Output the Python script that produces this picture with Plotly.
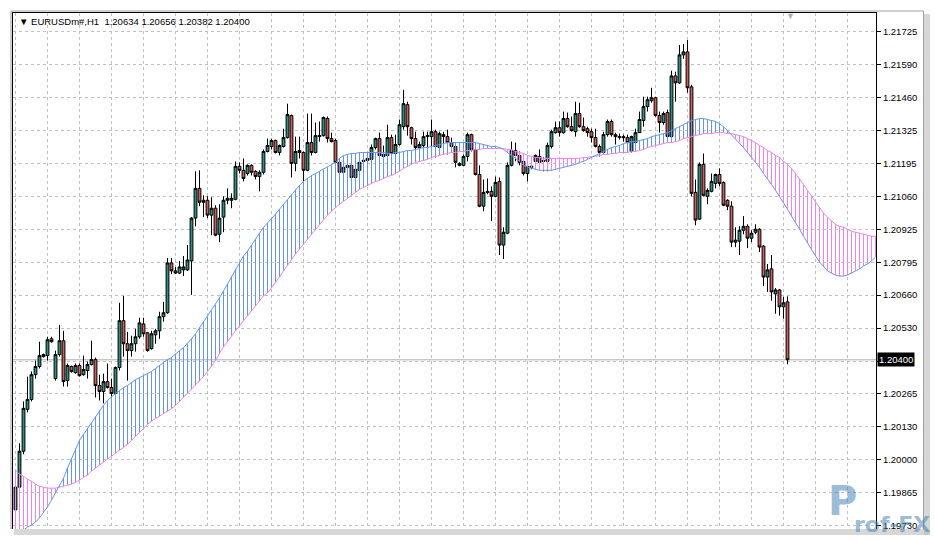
import plotly.graph_objects as go

# ---------------- data (EURUSDm#, H1) ----------------
opens = [1.19794,1.19886,1.20031,1.20200,1.20240,1.20340,1.20373,1.20413,1.20417,1.20485,
1.20324,1.20421,1.20477,1.20316,1.20373,1.20348,1.20377,1.20340,1.20357,1.20381,
1.20401,1.20296,1.20272,1.20312,1.20288,1.20264,1.20369,1.20558,1.20465,1.20437,
1.20465,1.20493,1.20545,1.20509,1.20445,1.20501,1.20517,1.20574,1.20590,1.20791,
1.20759,1.20750,1.20763,1.20763,1.20799,1.20972,1.21092,1.21036,1.21044,1.20984,
1.21012,1.20907,1.20976,1.21044,1.21044,1.21048,1.21181,1.21165,1.21152,1.21185,
1.21161,1.21140,1.21157,1.21241,1.21261,1.21285,1.21237,1.21261,1.21297,1.21386,
1.21193,1.21245,1.21237,1.21165,1.21277,1.21237,1.21301,1.21305,1.21374,1.21293,
1.21285,1.21197,1.21157,1.21177,1.21185,1.21136,1.21165,1.21201,1.21205,1.21209,
1.21257,1.21293,1.21229,1.21225,1.21297,1.21233,1.21269,1.21341,1.21430,1.21337,
1.21293,1.21257,1.21265,1.21301,1.21301,1.21321,1.21257,1.21301,1.21301,1.21277,
1.21261,1.21193,1.21185,1.21221,1.21309,1.21249,1.21148,1.21020,1.21080,1.21080,
1.21060,1.21120,1.20863,1.20911,1.21185,1.21245,1.21225,1.21201,1.21152,1.21177,
1.21201,1.21221,1.21205,1.21201,1.21261,1.21317,1.21337,1.21317,1.21374,1.21341,
1.21321,1.21394,1.21341,1.21333,1.21321,1.21297,1.21261,1.21237,1.21309,1.21362,
1.21309,1.21297,1.21301,1.21297,1.21241,1.21277,1.21317,1.21366,1.21422,1.21446,
1.21458,1.21386,1.21358,1.21398,1.21301,1.21546,1.21518,1.21631,1.21643,1.21502,
1.21076,1.20968,1.21189,1.21060,1.21080,1.21112,1.21148,1.21116,1.21044,1.21020,
1.20875,1.20879,1.20923,1.20939,1.20891,1.20915,1.20927,1.20859,1.20734,1.20767,
1.20666,1.20682,1.20614,1.20634]

highs = [1.19922,1.20063,1.20232,1.20332,1.20353,1.20397,1.20473,1.20425,1.20493,1.20493,
1.20437,1.20541,1.20517,1.20385,1.20377,1.20385,1.20385,1.20417,1.20393,1.20477,
1.20409,1.20340,1.20344,1.20385,1.20324,1.20373,1.20630,1.20658,1.20513,1.20497,
1.20525,1.20570,1.20570,1.20513,1.20517,1.20525,1.20594,1.20634,1.20811,1.20811,
1.20775,1.20799,1.20819,1.20863,1.20976,1.21161,1.21165,1.21064,1.21060,1.21056,
1.21024,1.21028,1.21060,1.21092,1.21072,1.21201,1.21197,1.21213,1.21189,1.21189,
1.21165,1.21165,1.21249,1.21293,1.21293,1.21289,1.21269,1.21333,1.21434,1.21390,
1.21301,1.21301,1.21241,1.21394,1.21394,1.21358,1.21362,1.21382,1.21382,1.21317,
1.21293,1.21213,1.21197,1.21221,1.21197,1.21177,1.21213,1.21217,1.21229,1.21269,
1.21297,1.21317,1.21265,1.21349,1.21309,1.21309,1.21370,1.21490,1.21442,1.21341,
1.21321,1.21281,1.21321,1.21321,1.21370,1.21329,1.21321,1.21321,1.21329,1.21297,
1.21265,1.21197,1.21229,1.21317,1.21313,1.21257,1.21185,1.21128,1.21132,1.21100,
1.21140,1.21136,1.20935,1.21197,1.21281,1.21277,1.21241,1.21209,1.21189,1.21189,
1.21229,1.21249,1.21217,1.21277,1.21329,1.21362,1.21362,1.21402,1.21398,1.21382,
1.21442,1.21438,1.21378,1.21341,1.21333,1.21333,1.21269,1.21321,1.21370,1.21370,
1.21317,1.21313,1.21309,1.21309,1.21305,1.21333,1.21402,1.21462,1.21462,1.21498,
1.21462,1.21402,1.21402,1.21410,1.21567,1.21563,1.21671,1.21675,1.21691,1.21510,
1.21128,1.21197,1.21233,1.21092,1.21152,1.21152,1.21173,1.21120,1.21048,1.21040,
1.20935,1.20939,1.20980,1.20947,1.20923,1.20947,1.20931,1.20863,1.20787,1.20823,
1.20690,1.20686,1.20654,1.20656]

lows = [1.19725,1.19874,1.20019,1.20188,1.20232,1.20324,1.20365,1.20409,1.20397,1.20469,
1.20316,1.20413,1.20292,1.20292,1.20348,1.20344,1.20332,1.20336,1.20324,1.20377,
1.20248,1.20236,1.20224,1.20284,1.20244,1.20192,1.20357,1.20413,1.20316,1.20413,
1.20433,1.20485,1.20493,1.20433,1.20441,1.20465,1.20485,1.20554,1.20586,1.20746,
1.20746,1.20746,1.20738,1.20759,1.20662,1.20939,1.21020,1.20976,1.20972,1.20903,
1.20899,1.20875,1.20915,1.21028,1.21012,1.21044,1.21152,1.21120,1.21144,1.21144,
1.21128,1.21080,1.21148,1.21237,1.21249,1.21233,1.21225,1.21257,1.21293,1.21136,
1.21161,1.21213,1.21120,1.21161,1.21225,1.21233,1.21281,1.21301,1.21277,1.21277,
1.21181,1.21152,1.21148,1.21161,1.21128,1.21132,1.21161,1.21181,1.21201,1.21201,
1.21249,1.21209,1.21209,1.21221,1.21229,1.21197,1.21265,1.21329,1.21305,1.21269,
1.21221,1.21209,1.21229,1.21257,1.21261,1.21217,1.21257,1.21257,1.21229,1.21241,
1.21177,1.21181,1.21181,1.21201,1.21241,1.21144,1.21016,1.21000,1.21068,1.20960,
1.21056,1.20823,1.20807,1.20907,1.21181,1.21201,1.21185,1.21144,1.21120,1.21169,
1.21181,1.21177,1.21161,1.21161,1.21253,1.21313,1.21301,1.21313,1.21337,1.21321,
1.21301,1.21337,1.21321,1.21301,1.21277,1.21257,1.21221,1.21229,1.21301,1.21301,
1.21269,1.21289,1.21281,1.21269,1.21237,1.21269,1.21317,1.21341,1.21402,1.21438,
1.21382,1.21317,1.21349,1.21281,1.21297,1.21442,1.21514,1.21615,1.21478,1.21060,
1.20943,1.20964,1.21060,1.21028,1.21076,1.21092,1.21100,1.21020,1.21004,1.20855,
1.20855,1.20823,1.20907,1.20851,1.20875,1.20907,1.20835,1.20698,1.20674,1.20638,
1.20586,1.20578,1.20566,1.20382]

closes = [1.19886,1.20031,1.20204,1.20240,1.20340,1.20373,1.20417,1.20421,1.20481,1.20473,
1.20421,1.20477,1.20312,1.20377,1.20353,1.20377,1.20336,1.20361,1.20381,1.20401,
1.20296,1.20272,1.20312,1.20288,1.20264,1.20369,1.20558,1.20465,1.20437,1.20465,
1.20493,1.20549,1.20505,1.20437,1.20505,1.20517,1.20574,1.20590,1.20791,1.20759,
1.20750,1.20775,1.20775,1.20803,1.20972,1.21092,1.21036,1.21044,1.20984,1.21012,
1.20903,1.20972,1.21044,1.21052,1.21052,1.21181,1.21165,1.21132,1.21185,1.21157,
1.21140,1.21157,1.21241,1.21265,1.21285,1.21237,1.21265,1.21297,1.21390,1.21193,
1.21241,1.21237,1.21165,1.21277,1.21237,1.21305,1.21305,1.21378,1.21293,1.21281,
1.21197,1.21157,1.21177,1.21185,1.21136,1.21169,1.21197,1.21205,1.21213,1.21257,
1.21293,1.21225,1.21221,1.21297,1.21233,1.21269,1.21349,1.21434,1.21341,1.21293,
1.21257,1.21269,1.21301,1.21305,1.21321,1.21261,1.21313,1.21309,1.21277,1.21261,
1.21197,1.21185,1.21221,1.21309,1.21249,1.21148,1.21020,1.21076,1.21076,1.21060,
1.21116,1.20863,1.20915,1.21185,1.21245,1.21225,1.21197,1.21152,1.21181,1.21181,
1.21225,1.21197,1.21201,1.21265,1.21321,1.21337,1.21317,1.21374,1.21341,1.21325,
1.21394,1.21341,1.21325,1.21317,1.21297,1.21261,1.21237,1.21309,1.21362,1.21309,
1.21301,1.21301,1.21297,1.21277,1.21301,1.21317,1.21370,1.21422,1.21450,1.21458,
1.21386,1.21358,1.21394,1.21301,1.21546,1.21518,1.21631,1.21643,1.21498,1.21072,
1.20964,1.21189,1.21064,1.21084,1.21120,1.21148,1.21112,1.21024,1.21020,1.20875,
1.20883,1.20923,1.20939,1.20891,1.20911,1.20927,1.20855,1.20734,1.20763,1.20674,
1.20682,1.20614,1.20630,1.20400]

# Ichimoku cloud (shifted forward), one value per bar
span_a = [1.19689,1.19701,1.19713,1.19725,1.19733,1.19745,1.19762,1.19782,1.19806,1.19834,
1.19862,1.19890,1.19922,1.19963,1.20003,1.20043,1.20075,1.20099,1.20123,1.20148,
1.20172,1.20196,1.20216,1.20236,1.20252,1.20264,1.20276,1.20288,1.20296,1.20308,
1.20320,1.20328,1.20336,1.20344,1.20353,1.20365,1.20377,1.20389,1.20401,1.20409,
1.20425,1.20437,1.20449,1.20465,1.20485,1.20505,1.20529,1.20554,1.20574,1.20598,
1.20622,1.20650,1.20678,1.20706,1.20738,1.20767,1.20795,1.20819,1.20839,1.20863,
1.20887,1.20911,1.20935,1.20952,1.20968,1.20988,1.21008,1.21028,1.21048,1.21068,
1.21088,1.21104,1.21120,1.21132,1.21144,1.21152,1.21161,1.21169,1.21177,1.21185,
1.21197,1.21213,1.21225,1.21229,1.21233,1.21233,1.21237,1.21237,1.21237,1.21237,
1.21237,1.21237,1.21237,1.21233,1.21233,1.21237,1.21237,1.21241,1.21245,1.21245,
1.21249,1.21253,1.21257,1.21257,1.21261,1.21265,1.21269,1.21273,1.21277,1.21277,
1.21277,1.21277,1.21277,1.21277,1.21277,1.21277,1.21273,1.21269,1.21265,1.21261,
1.21261,1.21257,1.21249,1.21237,1.21225,1.21213,1.21201,1.21185,1.21177,1.21173,
1.21169,1.21165,1.21165,1.21165,1.21165,1.21169,1.21173,1.21177,1.21181,1.21185,
1.21189,1.21197,1.21201,1.21209,1.21217,1.21225,1.21233,1.21241,1.21249,1.21257,
1.21261,1.21265,1.21273,1.21277,1.21281,1.21281,1.21285,1.21289,1.21293,1.21301,
1.21305,1.21309,1.21313,1.21317,1.21325,1.21333,1.21341,1.21349,1.21358,1.21366,
1.21370,1.21374,1.21374,1.21370,1.21366,1.21362,1.21353,1.21341,1.21325,1.21309,
1.21293,1.21277,1.21257,1.21237,1.21217,1.21197,1.21177,1.21152,1.21132,1.21108,
1.21084,1.21060,1.21036,1.21008,1.20980,1.20956,1.20927,1.20899,1.20871,1.20843,
1.20819,1.20795,1.20775,1.20759,1.20750,1.20742,1.20738,1.20738,1.20742,1.20750,
1.20759,1.20767,1.20779,1.20787,1.20799,1.20815]

span_b = [1.19955,1.19938,1.19930,1.19918,1.19910,1.19898,1.19890,1.19886,1.19882,1.19882,
1.19882,1.19886,1.19890,1.19894,1.19898,1.19906,1.19914,1.19926,1.19934,1.19951,
1.19963,1.19975,1.19987,1.19999,1.20011,1.20023,1.20035,1.20047,1.20059,1.20075,
1.20091,1.20107,1.20127,1.20139,1.20152,1.20164,1.20172,1.20184,1.20192,1.20204,
1.20216,1.20232,1.20248,1.20264,1.20280,1.20296,1.20312,1.20332,1.20353,1.20373,
1.20397,1.20425,1.20453,1.20473,1.20497,1.20517,1.20537,1.20558,1.20578,1.20598,
1.20618,1.20638,1.20658,1.20670,1.20690,1.20714,1.20734,1.20759,1.20783,1.20807,
1.20827,1.20847,1.20867,1.20887,1.20907,1.20927,1.20947,1.20968,1.20984,1.21000,
1.21016,1.21028,1.21040,1.21052,1.21064,1.21076,1.21088,1.21096,1.21104,1.21112,
1.21120,1.21124,1.21132,1.21140,1.21144,1.21152,1.21161,1.21173,1.21181,1.21189,
1.21197,1.21201,1.21205,1.21209,1.21217,1.21221,1.21225,1.21229,1.21233,1.21237,
1.21237,1.21241,1.21241,1.21245,1.21245,1.21249,1.21249,1.21253,1.21253,1.21253,
1.21253,1.21253,1.21253,1.21249,1.21249,1.21241,1.21237,1.21233,1.21225,1.21221,
1.21217,1.21217,1.21213,1.21213,1.21213,1.21213,1.21213,1.21213,1.21213,1.21213,
1.21213,1.21213,1.21217,1.21217,1.21221,1.21221,1.21225,1.21229,1.21229,1.21233,
1.21233,1.21237,1.21237,1.21237,1.21241,1.21241,1.21245,1.21249,1.21257,1.21261,
1.21265,1.21269,1.21273,1.21277,1.21277,1.21281,1.21285,1.21293,1.21297,1.21301,
1.21305,1.21309,1.21313,1.21313,1.21313,1.21317,1.21317,1.21317,1.21313,1.21313,
1.21309,1.21305,1.21301,1.21293,1.21285,1.21277,1.21265,1.21257,1.21245,1.21237,
1.21225,1.21217,1.21201,1.21189,1.21173,1.21152,1.21132,1.21108,1.21084,1.21060,
1.21036,1.21016,1.20992,1.20976,1.20960,1.20947,1.20939,1.20935,1.20927,1.20919,
1.20915,1.20911,1.20907,1.20903,1.20899,1.20899]

grid_prices = [1.21725,1.21592,1.21459,1.21326,1.21193,1.21060,1.20927,1.20794,
               1.20661,1.20528,1.20395,1.20262,1.20129,1.19996,1.19863,1.19730]
grid_labels = ["1.21725","1.21590","1.21460","1.21325","1.21195","1.21060","1.20925","1.20795",
               "1.20660","1.20530","1.20400","1.20265","1.20130","1.20000","1.19865","1.19730"]
bid_price = 1.20400
title_text = "EURUSDm#,H1  1.20634 1.20656 1.20382 1.20400"

# ---------------- styling ----------------
W, H = 935, 541
ML, MR, MT, MB = 13, 59, 13, 10
FONT = "Liberation Sans, Arial, sans-serif"
BULL = "#2f8f80"
BEAR = "#cd5c5c"
BLUE = "#6495ed"
VIOLET = "#ee82ee"

def px(x):
    return (x - ML) / (W - ML - MR)

def py(y):
    return (H - MB - y) / (H - MT - MB)

n_c = len(opens)
n_s = len(span_a)
xc = list(range(n_c))
xs = list(range(n_s))

hx_b, hy_b, hx_v, hy_v = [], [], [], []
for i in range(n_s):
    a, b = span_a[i], span_b[i]
    if a >= b:
        hx_b += [i, i, None]; hy_b += [a, b, None]
    else:
        hx_v += [i, i, None]; hy_v += [a, b, None]

bid_text = f"{bid_price:.5f}"
# the bid price box replaces the regular scale label at that level
tick_text = ["" if t == bid_text else t for t in grid_labels]

fig = go.Figure()
fig.add_trace(go.Scatter(x=hx_b, y=hy_b, mode="lines", line=dict(color=BLUE, width=1),
                         hoverinfo="skip", showlegend=False))
fig.add_trace(go.Scatter(x=hx_v, y=hy_v, mode="lines", line=dict(color=VIOLET, width=1),
                         hoverinfo="skip", showlegend=False))
fig.add_trace(go.Scatter(x=xs, y=span_b, mode="lines", line=dict(color=VIOLET, width=1),
                         showlegend=False))
fig.add_trace(go.Scatter(x=xs, y=span_a, mode="lines", line=dict(color=BLUE, width=1),
                         showlegend=False))
fig.add_trace(go.Candlestick(
    x=xc, open=opens, high=highs, low=lows, close=closes,
    increasing=dict(fillcolor=BULL, line=dict(color="black", width=1)),
    decreasing=dict(fillcolor=BEAR, line=dict(color="black", width=1)),
    whiskerwidth=0, showlegend=False))

fig.update_layout(
    width=W, height=H,
    margin=dict(l=ML, r=MR, t=MT, b=MB),
    paper_bgcolor="white", plot_bgcolor="white",
    boxgap=0.3, boxgroupgap=0,
    showlegend=False,
    font=dict(family=FONT, size=10, color="black"),
)
fig.update_xaxes(
    range=[-0.625, 215.125], rangeslider=dict(visible=False),
    tickvals=list(range(0, n_s, 8)), showticklabels=False, ticks="",
    showgrid=True, gridcolor="#c0c0c0", griddash="3px,3px", gridwidth=1,
    zeroline=False, showline=True, linecolor="black", linewidth=1, mirror=True,
)
fig.update_yaxes(
    range=[1.19717, 1.21800], side="right",
    tickvals=grid_prices, ticktext=tick_text,
    ticks="outside", ticklen=4, tickcolor="black", tickwidth=1,
    tickfont=dict(family=FONT, size=9.5, color="black"),
    showgrid=True, gridcolor="#c0c0c0", griddash="3px,3px", gridwidth=1,
    zeroline=False, showline=True, linecolor="black", linewidth=1, mirror=True,
)

# bid line
fig.add_shape(type="line", xref="paper", yref="y", x0=0, x1=1, y0=bid_price, y1=bid_price,
              line=dict(color="#b0b0b0", width=1), layer="below")

# window shadow (right & bottom) and bottom clipping
fig.add_shape(type="rect", xref="paper", yref="paper", x0=px(0), x1=px(W + 5), y0=py(H + 5), y1=py(531),
              fillcolor="white", line=dict(width=0), layer="above")
fig.add_shape(type="rect", xref="paper", yref="paper", x0=px(14), x1=px(930), y0=py(537), y1=py(531),
              fillcolor="#bdbdbd", line=dict(width=0), layer="above", opacity=0.6)
fig.add_shape(type="rect", xref="paper", yref="paper", x0=px(924), x1=px(930), y0=py(537), y1=py(14),
              fillcolor="#bdbdbd", line=dict(width=0), layer="above", opacity=0.6)
fig.add_shape(type="line", xref="paper", yref="paper", x0=px(923.5), x1=px(923.5), y0=py(531), y1=py(11),
              line=dict(color="#a0a0a0", width=1), layer="above")
fig.add_shape(type="line", xref="paper", yref="paper", x0=px(11), x1=px(923.5), y0=py(11), y1=py(11),
              line=dict(color="#a0a0a0", width=1), layer="above")
fig.add_shape(type="line", xref="paper", yref="paper", x0=px(11), x1=px(11), y0=py(531), y1=py(11),
              line=dict(color="#a0a0a0", width=1), layer="above")

# title
fig.add_annotation(xref="paper", yref="paper", x=px(17), y=py(22), xanchor="left", yanchor="middle",
                   text="\u25BC " + title_text, showarrow=False,
                   font=dict(family=FONT, size=9.5, color="black"))
# shift marker
fig.add_annotation(xref="paper", yref="paper", x=px(790), y=py(16), xanchor="center", yanchor="middle",
                   text="\u25BC", showarrow=False, font=dict(family=FONT, size=9, color="#b0b0b0"))
# bid label
fig.add_annotation(xref="paper", yref="y", x=px(877), y=bid_price, xanchor="left", yanchor="middle",
                   text=bid_text, showarrow=False, bgcolor="black", borderpad=1,
                   font=dict(family=FONT, size=9.5, color="white"))
# watermark
fig.add_annotation(xref="paper", yref="paper", x=px(826), y=py(528), xanchor="left", yanchor="bottom",
                   text="<b>P</b>", showarrow=False,
                   font=dict(family="DejaVu Sans", size=40, color="rgba(70,130,180,0.55)"))
fig.add_annotation(xref="paper", yref="paper", x=px(852), y=py(541), xanchor="left", yanchor="bottom",
                   text="<b>rof-FX</b>", showarrow=False,
                   font=dict(family="DejaVu Sans", size=22, color="rgba(70,130,180,0.55)"))

fig.write_html("out.html", config={"displayModeBar": False},
               post_script="document.body.style.margin='0';document.body.style.overflow='hidden';")
